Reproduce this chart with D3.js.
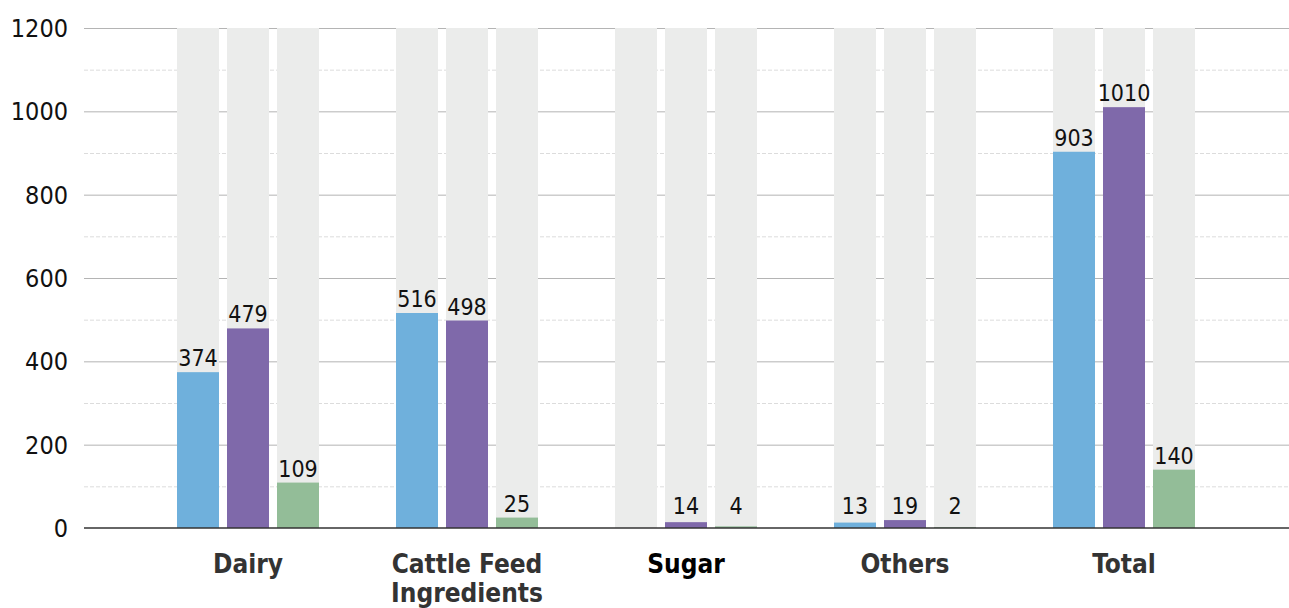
<!DOCTYPE html>
<html>
<head>
<meta charset="utf-8">
<script src="https://cdn.jsdelivr.net/npm/d3@7"></script>
<style>
  body { margin: 0; background: #fff; }
  svg { display: block; font-family: "DejaVu Sans Condensed", "DejaVu Sans", sans-serif; font-stretch: condensed; }
</style>
</head>
<body>
<div id="chart"></div>
<script>
// ------------------------------------------------------------
// Data
// ------------------------------------------------------------
const categories = ["Dairy", "Cattle Feed|Ingredients", "Sugar", "Others", "Total"];
const seriesNames = ["A", "B", "C"];
const seriesA = [374, 516, 0, 13, 903];
const seriesB = [479, 498, 14, 19, 1010];
const seriesC = [109, 25, 4, 2, 140];
const labelsA = ["374", "516", "", "13", "903"];
const labelsB = ["479", "498", "14", "19", "1010"];
const labelsC = ["109", "25", "4", "2", "140"];
const yTicks = [0, 200, 400, 600, 800, 1000, 1200];
const yMinor = [100, 300, 500, 700, 900, 1100];

const colors = ["#6fb0dc", "#7f69aa", "#93bd98"];
const values = [seriesA, seriesB, seriesC];
const labels = [labelsA, labelsB, labelsC];

// ------------------------------------------------------------
// Chart
// ------------------------------------------------------------
const width = 1289, height = 608;
const left = 84, right = 1289;

const svg = d3.select("#chart")
    .append("svg")
    .attr("width", width)
    .attr("height", height);

const y = d3.scaleLinear()
    .domain([0, 1200])
    .range([528, 28]);

const x0 = d3.scaleBand()
    .domain(categories)
    .range([138.5, 1233.5]);

const x1 = d3.scaleBand()
    .domain(seriesNames)
    .range([0, 150])
    .paddingInner(0.16)
    .paddingOuter(0.08);

const groupX = c => x0(c) + x0.bandwidth() / 2 - 75;

// Minor dashed gridlines
svg.selectAll(".minor")
    .data(yMinor)
    .enter()
    .append("line")
    .attr("x1", left).attr("x2", right)
    .attr("y1", d => y(d) + 0.5).attr("y2", d => y(d) + 0.5)
    .attr("stroke", "#dcdcdc")
    .attr("stroke-dasharray", "4,2");

// Major gridlines
svg.selectAll(".major")
    .data(yTicks.slice(1))
    .enter()
    .append("line")
    .attr("x1", left).attr("x2", right)
    .attr("y1", d => y(d) + 0.5).attr("y2", d => y(d) + 0.5)
    .attr("stroke", "#b4b4b4");

// Tick labels
svg.selectAll(".tick")
    .data(yTicks)
    .enter()
    .append("text")
    .attr("x", 68)
    .attr("y", d => y(d))
    .attr("dy", "0.36em")
    .attr("text-anchor", "end")
    .attr("font-size", "25px")
    .attr("fill", "#111")
    .text(d => d);

// Bars
const groups = svg.selectAll(".group")
    .data(categories)
    .enter()
    .append("g")
    .attr("transform", c => `translate(${groupX(c)},0)`);

seriesNames.forEach((s, si) => {
    // gray background
    groups.append("rect")
        .attr("x", x1(s))
        .attr("y", y(1200))
        .attr("width", x1.bandwidth())
        .attr("height", y(0) - y(1200))
        .attr("fill", "#ebeceb");

    groups.append("rect")
        .attr("x", x1(s))
        .attr("y", (c, i) => y(values[si][i]))
        .attr("width", x1.bandwidth())
        .attr("height", (c, i) => y(0) - y(values[si][i]))
        .attr("fill", colors[si]);

    groups.append("text")
        .attr("x", x1(s) + x1.bandwidth() / 2)
        .attr("y", (c, i) => Math.min(y(values[si][i]) - 6, y(0) - 14))
        .attr("text-anchor", "middle")
        .attr("font-size", "23px")
        .attr("fill", "#111")
        .text((c, i) => labels[si][i]);
});

// Baseline
svg.append("line")
    .attr("x1", left).attr("x2", right)
    .attr("y1", y(0)).attr("y2", y(0))
    .attr("stroke", "#333")
    .attr("stroke-width", 1.5);

// Category labels
svg.selectAll(".cat")
    .data(categories)
    .enter()
    .append("text")
    .attr("x", c => x0(c) + x0.bandwidth() / 2)
    .attr("y", 573)
    .attr("text-anchor", "middle")
    .attr("font-size", "26px")
    .attr("font-weight", "bold")
    .attr("fill", c => c === "Sugar" ? "#000" : "#333")
    .each(function (c) {
        const parts = c.split("|");
        d3.select(this).selectAll("tspan")
            .data(parts)
            .enter()
            .append("tspan")
            .attr("x", x0(c) + x0.bandwidth() / 2)
            .attr("dy", (d, i) => i === 0 ? 0 : 29)
            .text(d => d);
    });
</script>
</body>
</html>
